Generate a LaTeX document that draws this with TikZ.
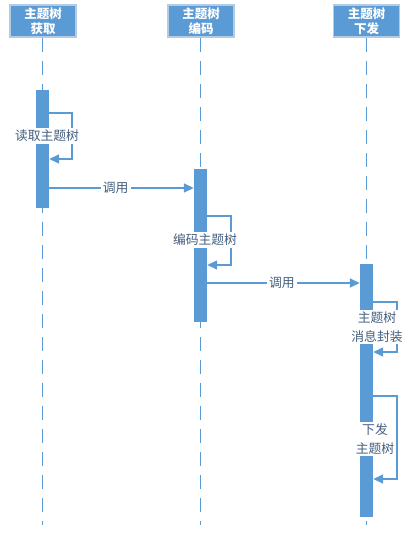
\documentclass[tikz,border=0pt]{standalone}
\usepackage{fontspec}
\newfontfamily\cjk{Noto Sans CJK SC}
\usetikzlibrary{arrows.meta}
\definecolor{mblue}{HTML}{5B9BD5}
\definecolor{hborder}{HTML}{B4CBE4}
\definecolor{lbltext}{HTML}{445F80}
\tikzset{
  head/.style={draw=hborder, line width=1.5pt, fill=mblue, text=white, minimum width=66pt, minimum height=32pt, inner sep=1pt, align=center, font=\cjk\bfseries\fontsize{12.5}{15.5}\selectfont},
  life/.style={draw=mblue, line width=1.6pt, dash pattern=on 14pt off 9pt},
  actbar/.style={fill=mblue, draw=none, minimum width=13pt, inner sep=0pt},
  msg/.style={draw=mblue, line width=1.5pt, -{Triangle[length=10pt,width=9pt]}},
  lbl/.style={fill=white, text=lbltext, inner sep=2pt, align=center, font=\cjk\fontsize{12.8}{19}\selectfont},
}
\begin{document}
\begin{tikzpicture}[x=1pt,y=-1pt]
\useasboundingbox (0,0) rectangle (411,534);
% headers
\node[head] (h1) at (43,21) {主题树\\获取};
\node[head] (h2) at (201,21) {主题树\\编码};
\node[head] (h3) at (366.5,21) {主题树\\下发};
% lifelines
\coordinate (e1) at (42.5,525);
\coordinate (e2) at (200.5,525);
\coordinate (e3) at (366.5,525);
\draw[life] (h1.south -| e1) -- (e1);
\draw[life] (h2.south -| e2) -- (e2);
\draw[life] (h3.south -| e3) -- (e3);
% activation bars
\node[actbar, minimum height=118pt] (b1) at (42.5,149) {};
\node[actbar, minimum height=153pt] (b2) at (200.5,245.5) {};
\node[actbar, minimum height=253pt] (b3) at (366.5,390.5) {};
% self loop 1
\draw[msg] (b1.east |- 0,113) -- (72,113) |- (b1.east |- 0,159);
\node[lbl] (l1) at (47,136) {读取主题树};
% call 1
\draw[msg] (b1.east |- 0,188) -- node[lbl, pos=0.46] (c1) {调用} (b2.west |- 0,188);
% self loop 2
\draw[msg] (b2.east |- 0,216) -- (231,216) |- (b2.east |- 0,265);
\node[lbl] (l2) at (205,240) {编码主题树};
% call 2
\draw[msg] (b2.east |- 0,283) -- node[lbl, pos=0.49] (c2) {调用} (b3.west |- 0,283);
% self loop 3
\draw[msg] (b3.east |- 0,302) -- (397,302) |- (b3.east |- 0,352);
\node[lbl] (l3) at (377,327) {主题树\\消息封装};
% self loop 4
\draw[msg] (b3.east |- 0,396) -- (397,396) |- (b3.east |- 0,479);
\node[lbl] (l4) at (375,439) {下发\\主题树};
\end{tikzpicture}
\end{document}
